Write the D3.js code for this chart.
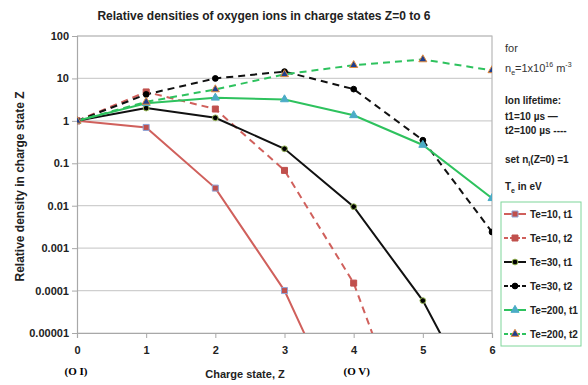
<!DOCTYPE html>
<html>
<head>
<meta charset="utf-8">
<script src="https://cdn.jsdelivr.net/npm/d3@7"></script>
<style>
  body { margin: 0; background: #fff; }
  svg { font-family: "Liberation Sans", Arial, sans-serif; }
</style>
</head>
<body>
<div id="chart"></div>
<script>
// DATA
const charges = [0, 1, 2, 3, 4, 5, 6];
const yTicks = [100, 10, 1, 0.1, 0.01, 0.001, 0.0001, 0.00001];
const yTickLabels = ["100", "10", "1", "0.1", "0.01", "0.001", "0.0001", "0.00001"];
const te10t1 = [1, 0.7, 0.026, 0.0001, 3e-8];
const te10t2 = [1, 4.8, 1.9, 0.068, 0.00015, 6e-9];
const te30t1 = [1, 2.0, 1.18, 0.22, 0.0095, 0.000058, 5e-8];
const te30t2 = [1, 4.2, 10, 14.5, 5.6, 0.35, 0.0024];
const te200t1 = [1, 2.6, 3.5, 3.2, 1.35, 0.27, 0.015];
const te200t2 = [1, 2.8, 5.5, 12.5, 20.5, 28, 15.5];

const seriesNames = ["Te=10, t1", "Te=10, t2", "Te=30, t1", "Te=30, t2", "Te=200, t1", "Te=200, t2"];

const width = 588, height = 385;
const margin = { left: 77, right: 96, top: 36, bottom: 52 };

const series = [
  { name: seriesNames[0], values: te10t1, color: "#d0605c", dash: null, shape: "square", fill: "#c0504d", stroke: "#8ea4d8" },
  { name: seriesNames[1], values: te10t2, color: "#d0605c", dash: "7,5", shape: "square", fill: "#c0504d", stroke: "#c0504d" },
  { name: seriesNames[2], values: te30t1, color: "#111", dash: null, shape: "circle", fill: "#000", stroke: "#9bbb59" },
  { name: seriesNames[3], values: te30t2, color: "#111", dash: "7,5", shape: "circle", fill: "#000", stroke: "#000" },
  { name: seriesNames[4], values: te200t1, color: "#2ec25e", dash: null, shape: "triangle", fill: "#4bacc6", stroke: "#4bacc6" },
  { name: seriesNames[5], values: te200t2, color: "#2ec25e", dash: "7,5", shape: "triangle", fill: "#1f3f8f", stroke: "#e08a3c" }
];

const svg = d3.select("#chart").append("svg")
  .attr("width", width).attr("height", height);

// SCALES
const x = d3.scaleLinear().domain([0, 6]).range([margin.left, width - margin.right]);
const y = d3.scaleLog().domain([0.00001, 100]).range([height - margin.bottom, margin.top]);

// GRID
svg.append("g").selectAll("line").data(yTicks).join("line")
  .attr("x1", margin.left).attr("x2", width - margin.right)
  .attr("y1", d => y(d)).attr("y2", d => y(d))
  .attr("stroke", "#cfcfcf").attr("stroke-width", 1.2);

// frame (top + right)
svg.append("path")
  .attr("d", `M${margin.left},${margin.top}H${width - margin.right}V${height - margin.bottom}`)
  .attr("fill", "none").attr("stroke", "#b8b8b8").attr("stroke-width", 1.2);

// AXES
const yAxis = d3.axisLeft(y).tickValues(yTicks).tickFormat((d, i) => yTickLabels[i]).tickSize(5).tickPadding(3);
const gy = svg.append("g").attr("transform", `translate(${margin.left},0)`).call(yAxis);
gy.select(".domain").attr("stroke", "#a8a8a8").attr("stroke-width", 1.2);
gy.selectAll(".tick line").attr("stroke", "#a8a8a8");
gy.selectAll("text").attr("font-size", 11).attr("font-weight", "bold").attr("fill", "#222");

const xAxis = d3.axisBottom(x).tickValues(charges).tickFormat(d3.format("d")).tickSize(5).tickPadding(8);
const gx = svg.append("g").attr("transform", `translate(0,${height - margin.bottom})`).call(xAxis);
gx.select(".domain").attr("stroke", "#a8a8a8").attr("stroke-width", 1.2);
gx.selectAll(".tick line").attr("stroke", "#a8a8a8");
gx.selectAll("text").attr("font-size", 11).attr("font-weight", "bold").attr("fill", "#222");

// CLIP
svg.append("clipPath").attr("id", "plotClip").append("rect")
  .attr("x", margin.left).attr("y", margin.top)
  .attr("width", width - margin.left - margin.right)
  .attr("height", height - margin.top - margin.bottom);

const line = d3.line().x((d, i) => x(charges[i])).y(d => y(d));
const plot = svg.append("g").attr("clip-path", "url(#plotClip)");

const symbolFor = s => s === "square" ? d3.symbolSquare : s === "circle" ? d3.symbolCircle : d3.symbolTriangle;
const sizeFor = s => s === "square" ? 36 : s === "circle" ? 26 : 28;

series.forEach(s => {
  plot.append("path")
    .attr("d", line(s.values))
    .attr("fill", "none")
    .attr("stroke", s.color)
    .attr("stroke-width", 2)
    .attr("stroke-dasharray", s.dash);
});
series.forEach(s => {
  plot.append("g").selectAll("path").data(s.values).join("path")
    .attr("transform", (d, i) => `translate(${x(charges[i])},${y(d)})`)
    .attr("d", d3.symbol().type(symbolFor(s.shape)).size(sizeFor(s.shape)))
    .attr("fill", s.fill).attr("stroke", s.stroke).attr("stroke-width", 1);
});

// TITLES
svg.append("text").attr("x", 264).attr("y", 20).attr("text-anchor", "middle")
  .attr("font-size", 12).attr("font-weight", "bold").attr("fill", "#222")
  .text("Relative densities of oxygen ions in charge states Z=0 to 6");

svg.append("text")
  .attr("transform", `translate(24,${(margin.top + height - margin.bottom) / 2 + 2}) rotate(-90)`)
  .attr("text-anchor", "middle").attr("font-size", 12).attr("font-weight", "bold").attr("fill", "#222")
  .text("Relative density in charge state Z");

svg.append("text").attr("x", 245).attr("y", 378).attr("text-anchor", "middle")
  .attr("font-size", 11).attr("font-weight", "bold").attr("fill", "#222")
  .text("Charge state, Z");

svg.append("text").attr("x", x(0) - 1).attr("y", 375).attr("text-anchor", "middle")
  .attr("font-family", "Liberation Serif, serif").attr("font-size", 11).attr("font-weight", "bold")
  .text("(O I)");
svg.append("text").attr("x", x(4) + 3).attr("y", 375).attr("text-anchor", "middle")
  .attr("font-family", "Liberation Serif, serif").attr("font-size", 11).attr("font-weight", "bold")
  .text("(O V)");

// SIDE NOTES
const notes = svg.append("g").attr("fill", "#333").attr("font-size", 11);
notes.append("text").attr("x", 505).attr("y", 52).text("for");
const ne = notes.append("text").attr("x", 505).attr("y", 72);
ne.append("tspan").text("n");
ne.append("tspan").attr("font-size", 7).attr("dy", 3).text("e");
ne.append("tspan").attr("dy", -3).text("=1x10");
ne.append("tspan").attr("font-size", 7).attr("dy", -5).text("16");
ne.append("tspan").attr("dy", 5).text(" m");
ne.append("tspan").attr("font-size", 7).attr("dy", -5).text("-3");

const b = svg.append("g").attr("fill", "#222").attr("font-size", 10).attr("font-weight", "bold");
b.append("text").attr("x", 505).attr("y", 104).text("Ion lifetime:");
b.append("text").attr("x", 505).attr("y", 120).text("t1=10 µs —");
b.append("text").attr("x", 505).attr("y", 134).text("t2=100 µs ----");
const ni = b.append("text").attr("x", 505).attr("y", 163);
ni.append("tspan").text("set n");
ni.append("tspan").attr("font-size", 7).attr("dy", 3).text("i");
ni.append("tspan").attr("dy", -3).text("(Z=0) =1");
const te = b.append("text").attr("x", 505).attr("y", 190);
te.append("tspan").text("T");
te.append("tspan").attr("font-size", 7).attr("dy", 3).text("e");
te.append("tspan").attr("dy", -3).text(" in eV");

// LEGEND
const legend = svg.append("g");
legend.append("rect").attr("x", 501).attr("y", 202).attr("width", 80).attr("height", 144)
  .attr("fill", "#fff").attr("stroke", "#7fd69a").attr("stroke-width", 1);
const items = legend.selectAll("g.item").data(series).join("g")
  .attr("transform", (d, i) => `translate(504,${214 + i * 24})`);
items.append("line").attr("x1", 0).attr("x2", 22)
  .attr("stroke", d => d.color).attr("stroke-width", 2)
  .attr("stroke-dasharray", d => d.dash ? "4,2" : null);
items.append("path").attr("transform", "translate(11,0)")
  .attr("d", d => d3.symbol().type(symbolFor(d.shape)).size(sizeFor(d.shape))())
  .attr("fill", d => d.fill).attr("stroke", d => d.stroke);
items.append("text").attr("x", 26).attr("y", 4)
  .attr("font-size", 10).attr("font-weight", "bold").attr("fill", "#222")
  .text(d => d.name);
</script>
</body>
</html>
